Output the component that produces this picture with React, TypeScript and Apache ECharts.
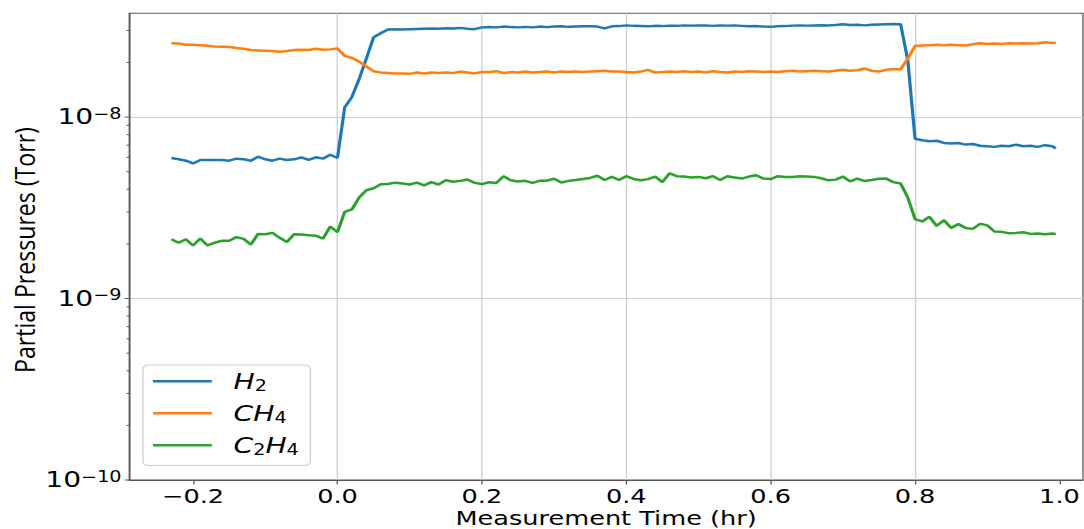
import React, { useEffect, useRef } from "react";
import * as echarts from "echarts";

// ---- data ----
const times = [
  -0.23, -0.22, -0.21, -0.2, -0.19, -0.18, -0.17, -0.16, -0.15, -0.14, -0.13, -0.12, -0.11, -0.1, -0.09, -0.08,
  -0.07, -0.06, -0.05, -0.04, -0.03, -0.02, -0.01, 0.0,
  0.01, 0.02, 0.03, 0.04, 0.05, 0.06, 0.07, 0.08, 0.09,
  0.1, 0.11, 0.12, 0.13, 0.14, 0.15, 0.16, 0.17, 0.18, 0.19,
  0.2, 0.21, 0.22, 0.23, 0.24, 0.25, 0.26, 0.27, 0.28, 0.29,
  0.3, 0.31, 0.32, 0.33, 0.34, 0.35, 0.36, 0.37, 0.38, 0.39,
  0.4, 0.41, 0.42, 0.43, 0.44, 0.45, 0.46, 0.47, 0.48, 0.49,
  0.5, 0.51, 0.52, 0.53, 0.54, 0.55, 0.56, 0.57, 0.58, 0.59,
  0.6, 0.61, 0.62, 0.63, 0.64, 0.65, 0.66, 0.67, 0.68, 0.69,
  0.7, 0.71, 0.72, 0.73, 0.74, 0.75, 0.76, 0.77, 0.78, 0.79,
  0.8, 0.81, 0.82, 0.83, 0.84, 0.85, 0.86, 0.87, 0.88, 0.89,
  0.9, 0.91, 0.92, 0.93, 0.94, 0.95, 0.96, 0.97, 0.98, 0.99, 0.995,
];

const h2 = [
  5.95e-9, 5.85e-9, 5.75e-9, 5.55e-9, 5.8e-9, 5.8e-9, 5.8e-9, 5.8e-9, 5.75e-9, 5.9e-9, 5.85e-9, 5.75e-9,
  6.05e-9, 5.85e-9, 5.75e-9, 5.9e-9, 5.8e-9, 5.85e-9, 6.0e-9, 5.8e-9, 6.0e-9, 5.9e-9, 6.2e-9, 5.95e-9,
  1.13e-8, 1.29e-8, 1.62e-8, 2.1e-8, 2.75e-8, 2.9e-8, 3.04e-8, 3.05e-8, 3.04e-8,
  3.05e-8, 3.06e-8, 3.07e-8, 3.08e-8, 3.07e-8, 3.09e-8, 3.08e-8, 3.1e-8, 3.07e-8, 3.05e-8,
  3.12e-8, 3.13e-8, 3.12e-8, 3.15e-8, 3.13e-8, 3.12e-8, 3.14e-8, 3.12e-8, 3.15e-8, 3.13e-8,
  3.15e-8, 3.16e-8, 3.14e-8, 3.15e-8, 3.16e-8, 3.16e-8, 3.15e-8, 3.08e-8, 3.16e-8, 3.17e-8,
  3.2e-8, 3.18e-8, 3.17e-8, 3.16e-8, 3.18e-8, 3.17e-8, 3.19e-8, 3.18e-8, 3.2e-8, 3.19e-8,
  3.2e-8, 3.2e-8, 3.18e-8, 3.2e-8, 3.19e-8, 3.2e-8, 3.18e-8, 3.16e-8, 3.17e-8, 3.15e-8,
  3.14e-8, 3.16e-8, 3.17e-8, 3.19e-8, 3.2e-8, 3.19e-8, 3.2e-8, 3.21e-8, 3.2e-8, 3.22e-8,
  3.25e-8, 3.22e-8, 3.23e-8, 3.2e-8, 3.23e-8, 3.24e-8, 3.25e-8, 3.26e-8, 3.25e-8, 2.05e-8,
  7.6e-9, 7.45e-9, 7.35e-9, 7.4e-9, 7.2e-9, 7.15e-9, 7.2e-9, 7.05e-9, 7.1e-9, 6.95e-9,
  6.9e-9, 6.85e-9, 6.95e-9, 6.9e-9, 7.05e-9, 6.9e-9, 6.95e-9, 6.85e-9, 7.0e-9, 6.9e-9, 6.72e-9,
];

const ch4 = [
  2.55e-8, 2.54e-8, 2.5e-8, 2.5e-8, 2.49e-8, 2.47e-8, 2.45e-8, 2.44e-8, 2.43e-8, 2.4e-8, 2.38e-8, 2.34e-8,
  2.33e-8, 2.32e-8, 2.31e-8, 2.29e-8, 2.31e-8, 2.34e-8, 2.35e-8, 2.34e-8, 2.38e-8, 2.35e-8, 2.36e-8, 2.39e-8,
  2.17e-8, 2.12e-8, 2.02e-8, 1.9e-8, 1.79e-8, 1.76e-8, 1.75e-8, 1.74e-8, 1.74e-8,
  1.73e-8, 1.76e-8, 1.74e-8, 1.76e-8, 1.75e-8, 1.76e-8, 1.75e-8, 1.78e-8, 1.76e-8, 1.74e-8,
  1.77e-8, 1.77e-8, 1.79e-8, 1.75e-8, 1.77e-8, 1.76e-8, 1.78e-8, 1.76e-8, 1.77e-8, 1.78e-8,
  1.76e-8, 1.78e-8, 1.77e-8, 1.78e-8, 1.77e-8, 1.78e-8, 1.79e-8, 1.8e-8, 1.78e-8, 1.78e-8,
  1.77e-8, 1.76e-8, 1.78e-8, 1.82e-8, 1.76e-8, 1.77e-8, 1.78e-8, 1.77e-8, 1.79e-8, 1.77e-8,
  1.78e-8, 1.76e-8, 1.79e-8, 1.77e-8, 1.76e-8, 1.78e-8, 1.77e-8, 1.79e-8, 1.78e-8, 1.77e-8,
  1.78e-8, 1.77e-8, 1.79e-8, 1.8e-8, 1.78e-8, 1.79e-8, 1.8e-8, 1.79e-8, 1.78e-8, 1.8e-8,
  1.82e-8, 1.8e-8, 1.81e-8, 1.85e-8, 1.8e-8, 1.78e-8, 1.82e-8, 1.84e-8, 1.83e-8, 2.1e-8,
  2.46e-8, 2.48e-8, 2.49e-8, 2.5e-8, 2.49e-8, 2.5e-8, 2.49e-8, 2.48e-8, 2.52e-8, 2.55e-8,
  2.53e-8, 2.54e-8, 2.53e-8, 2.55e-8, 2.54e-8, 2.55e-8, 2.54e-8, 2.55e-8, 2.58e-8, 2.56e-8, 2.57e-8,
];

const c2h4 = [
  2.12e-9, 2.03e-9, 2.12e-9, 1.96e-9, 2.14e-9, 1.96e-9, 2.03e-9, 2.08e-9, 2.08e-9, 2.18e-9, 2.13e-9, 1.98e-9,
  2.27e-9, 2.26e-9, 2.3e-9, 2.16e-9, 2.05e-9, 2.26e-9, 2.25e-9, 2.23e-9, 2.22e-9, 2.14e-9, 2.49e-9, 2.32e-9,
  3.0e-9, 3.1e-9, 3.6e-9, 3.95e-9, 4.05e-9, 4.26e-9, 4.28e-9, 4.35e-9, 4.3e-9,
  4.25e-9, 4.35e-9, 4.2e-9, 4.38e-9, 4.25e-9, 4.48e-9, 4.4e-9, 4.45e-9, 4.53e-9, 4.34e-9,
  4.27e-9, 4.37e-9, 4.33e-9, 4.72e-9, 4.48e-9, 4.42e-9, 4.45e-9, 4.34e-9, 4.45e-9, 4.46e-9,
  4.57e-9, 4.36e-9, 4.45e-9, 4.5e-9, 4.56e-9, 4.62e-9, 4.75e-9, 4.5e-9, 4.68e-9, 4.5e-9,
  4.72e-9, 4.56e-9, 4.48e-9, 4.55e-9, 4.7e-9, 4.38e-9, 4.9e-9, 4.72e-9, 4.7e-9, 4.64e-9,
  4.68e-9, 4.6e-9, 4.72e-9, 4.5e-9, 4.72e-9, 4.64e-9, 4.58e-9, 4.7e-9, 4.78e-9, 4.58e-9,
  4.55e-9, 4.72e-9, 4.68e-9, 4.68e-9, 4.72e-9, 4.7e-9, 4.68e-9, 4.6e-9, 4.48e-9, 4.52e-9,
  4.7e-9, 4.42e-9, 4.58e-9, 4.44e-9, 4.5e-9, 4.57e-9, 4.58e-9, 4.38e-9, 4.3e-9, 3.6e-9,
  2.74e-9, 2.66e-9, 2.82e-9, 2.51e-9, 2.7e-9, 2.45e-9, 2.57e-9, 2.45e-9, 2.42e-9, 2.58e-9,
  2.53e-9, 2.34e-9, 2.33e-9, 2.29e-9, 2.3e-9, 2.32e-9, 2.27e-9, 2.28e-9, 2.26e-9, 2.28e-9, 2.27e-9,
];

const seriesNames = ["H2", "CH4", "C2H4"];
const legendLabels: Record<string, string> = {
  H2: "{i|H}{s|2}",
  CH4: "{i|CH}{s|4}",
  C2H4: "{i|C}{s|2}{i|H}{s|4}",
};
const seriesColors = ["#1f77b4", "#ff7f0e", "#2ca02c"];
const xTickValues = [-0.2, 0.0, 0.2, 0.4, 0.6, 0.8, 1.0];
const yMajorTicks = [1e-10, 1e-9, 1e-8];
const yMinorTicks = [
  2e-10, 3e-10, 4e-10, 5e-10, 6e-10, 7e-10, 8e-10, 9e-10,
  2e-9, 3e-9, 4e-9, 5e-9, 6e-9, 7e-9, 8e-9, 9e-9,
  2e-8, 3e-8,
];
const xAxisName = "Measurement Time (hr)";
const yAxisName = "Partial Pressures (Torr)";

// ---- layout ----
const SCREEN_W = 1084;
const H = 529;
const W = 847; // logical width, stretched horizontally to SCREEN_W
const S = SCREEN_W / W;
const X_MIN = -0.2884;
const X_MAX = 1.0326;
const Y_MIN = 1e-10;
const Y_MAX = 3.73e-8;
const AXIS_COLOR = "#555555";
const GRID_COLOR = "#cfcfcf";

export default function App() {
  const ref = useRef<HTMLDivElement>(null);

  useEffect(() => {
    if (!ref.current) return;
    const chart = echarts.init(ref.current, undefined, { renderer: "svg", width: W, height: H });

    const seriesData = [h2, ch4, c2h4];
    const lineSeries = seriesNames.map((name, k) => ({
      name,
      type: "line",
      data: times.map((t, i) => [t, seriesData[k][i]]),
      showSymbol: false,
      symbol: "none",
      silent: true,
      color: seriesColors[k],
      lineStyle: { width: 2.5, color: seriesColors[k] },
      emphasis: { disabled: true },
      z: 3,
    }));

    const tickData = [
      ...yMajorTicks.map((v) => [X_MIN, v, 3.6]),
      ...yMinorTicks.map((v) => [X_MIN, v, 2.1]),
    ];

    const option: any = {
      animation: false,
      grid: {
        left: 101,
        right: 0.8,
        top: 13.3,
        bottom: 49,
        show: true,
        borderColor: AXIS_COLOR,
        borderWidth: 1,
        backgroundColor: "transparent",
        outerBoundsMode: "none",
        containLabel: false,
      },
      xAxis: {
        type: "value",
        min: X_MIN,
        max: X_MAX,
        splitNumber: 6,
        minInterval: 0.2,
        maxInterval: 0.2,
        name: xAxisName,
        nameLocation: "middle",
        nameGap: 28.5,
        nameMoveOverlap: false,
        nameTextStyle: { fontFamily: "DejaVu Sans", fontSize: 20, lineHeight: 20, color: "#000" },
        axisLine: { show: true, onZero: false, lineStyle: { color: AXIS_COLOR, width: 1 } },
        axisTick: { show: true, length: 4.5, customValues: xTickValues, lineStyle: { color: AXIS_COLOR, width: 1 } },
        axisLabel: {
          show: true,
          customValues: xTickValues,
          margin: 6,
          fontFamily: "DejaVu Sans",
          fontSize: 20,
          lineHeight: 20,
          color: "#000",
          formatter: (v: number) => v.toFixed(1).replace("-", "\u2212"),
        },
        splitLine: { show: true, showMinLine: false, showMaxLine: false, lineStyle: { color: GRID_COLOR, width: 1 } },
      },
      yAxis: {
        type: "log",
        logBase: 10,
        min: Y_MIN,
        max: Y_MAX,
        axisLine: { show: true, onZero: false, lineStyle: { color: AXIS_COLOR, width: 1 } },
        axisTick: { show: false },
        axisLabel: {
          show: true,
          margin: 6,
          showMinLabel: true,
          showMaxLabel: false,
          formatter: (v: number) => {
            const e = Math.round(Math.log10(v));
            return `{b|10}{s|\u2212${-e}}`;
          },
          rich: {
            b: { fontFamily: "DejaVu Sans", fontSize: 22, lineHeight: 22, color: "#000" },
            s: { fontFamily: "DejaVu Sans", fontSize: 15, lineHeight: 12, verticalAlign: "top", color: "#000" },
          },
        },
        splitLine: { show: true, showMinLine: false, showMaxLine: false, lineStyle: { color: GRID_COLOR, width: 1 } },
      },
      legend: {
        show: true,
        orient: "vertical",
        left: 111.7,
        top: 365,
        icon: "rect",
        itemWidth: 46,
        itemHeight: 2.5,
        itemGap: 9,
        padding: [5.3, 9, 8.3, 7.8],
        backgroundColor: "rgba(255,255,255,0.8)",
        borderColor: "#cccccc",
        borderWidth: 1,
        borderRadius: 4,
        selectedMode: false,
        data: seriesNames,
        formatter: (n: string) => legendLabels[n] || n,
        textStyle: {
          padding: [0, 0, 0, 12],
          color: "#000",
          rich: {
            i: { fontFamily: "DejaVu Sans", fontStyle: "italic", fontSize: 22, lineHeight: 24, color: "#000" },
            s: { fontFamily: "DejaVu Sans", fontSize: 15, lineHeight: 12, verticalAlign: "bottom", color: "#000" },
          },
        },
      },
      graphic: [
        {
          type: "text",
          x: 19,
          y: 250,
          rotation: Math.PI / 2,
          scaleX: 1.1,
          silent: true,
          style: {
            text: yAxisName,
            font: "21px 'Open Sans'",
            fill: "#000",
            textAlign: "center",
            textVerticalAlign: "middle",
            align: "center",
            verticalAlign: "middle",
          },
        },
      ],
      series: [
        ...lineSeries,
        {
          name: "yTicks",
          type: "custom",
          silent: true,
          clip: false,
          z: 6,
          data: tickData,
          renderItem: (params: any, api: any) => {
            const p = api.coord([api.value(0), api.value(1)]);
            const len = api.value(2);
            return {
              type: "line",
              shape: { x1: p[0] - len, y1: p[1], x2: p[0], y2: p[1] },
              style: { stroke: AXIS_COLOR, lineWidth: 1 },
            };
          },
        },
      ],
    };

    chart.setOption(option);
    return () => chart.dispose();
  }, []);

  return (
    <div style={{ position: "absolute", left: 0, top: 0, width: SCREEN_W, height: H, overflow: "hidden", background: "#fff" }}>
      <div
        ref={ref}
        style={{ width: W, height: H, transform: `scaleX(${S})`, transformOrigin: "0 0" }}
      />
    </div>
  );
}
